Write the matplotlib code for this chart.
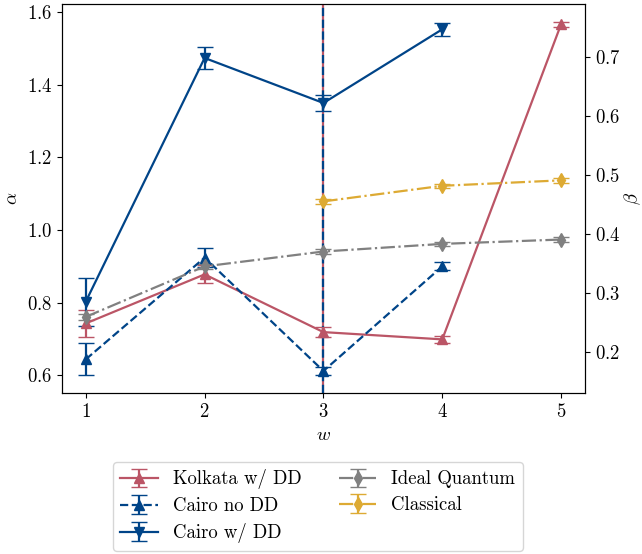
import numpy as np
import matplotlib.pyplot as plt

plt.rcParams['font.family'] = 'serif'
plt.rcParams['font.serif'] = ['cmr10']
plt.rcParams['mathtext.fontset'] = 'cm'
plt.rcParams['axes.formatter.use_mathtext'] = True
plt.rcParams['font.size'] = 13.5

# Colours (Tol high-contrast)
red = '#BB5566'
blue = '#004488'
yellow = '#DDAA33'
grey = '#808080'

w = np.array([1, 2, 3, 4, 5])

kolkata_dd = [0.743, 0.878, 0.719, 0.699, 1.567]
kolkata_dd_err = [0.038, 0.025, 0.014, 0.009, 0.007]

cairo_nodd = [0.644, 0.924, 0.612, 0.900]
cairo_nodd_err = [0.044, 0.027, 0.012, 0.011]

cairo_dd = [0.803, 1.474, 1.350, 1.553]
cairo_dd_err = [0.066, 0.029, 0.022, 0.018]

ideal_q = [0.761, 0.900, 0.941, 0.962, 0.974]
ideal_q_err = [0.008, 0.006, 0.006, 0.006, 0.006]

w_classical = w[2:]
classical = [1.079, 1.122, 1.137]
classical_err = [0.007, 0.006, 0.006]

beta_lim = (0.130, 0.790)

fig = plt.figure(figsize=(6.42, 5.54), dpi=100)
ax = fig.add_axes([0.0966, 0.2906, 0.8144, 0.7022])

common = dict(capsize=6, lw=1.6, ms=7)
ax.errorbar(w, kolkata_dd, yerr=kolkata_dd_err, color=red, marker='^',
            ls='-', label='Kolkata w/ DD', **common)
ax.errorbar(w[:4], cairo_nodd, yerr=cairo_nodd_err, color=blue, marker='^',
            ls='--', label='Cairo no DD', **common)
ax.errorbar(w[:4], cairo_dd, yerr=cairo_dd_err, color=blue, marker='v',
            ls='-', label='Cairo w/ DD', **common)
ax.errorbar(w, ideal_q, yerr=ideal_q_err, color=grey, marker='d',
            ls='-.', label='Ideal Quantum', **common)
ax.errorbar(w_classical, classical, yerr=classical_err, color=yellow,
            marker='d', ls='-.', label='Classical', **common)

# unbounded uncertainty at w = 3
ax.axvline(w[2], color=red, lw=1.6, zorder=1)
ax.axvline(w[2], color=blue, lw=1.6, ls='--', zorder=1.1)

ax.set_xlabel(r'$w$')
ax.set_ylabel(r'$\alpha$')
ax.set_xticks(w)

ax2 = ax.twinx()
ax2.set_ylim(*beta_lim)
ax2.set_yticks([0.2, 0.3, 0.4, 0.5, 0.6, 0.7])
ax2.set_ylabel(r'$\beta$', labelpad=2)

fig.legend(*ax.get_legend_handles_labels(), loc='upper center',
           bbox_to_anchor=(0.495, 0.183), ncol=2, fontsize=13.5,
           labelspacing=0.42, columnspacing=2.0)

fig.savefig('out.png', dpi=100)
